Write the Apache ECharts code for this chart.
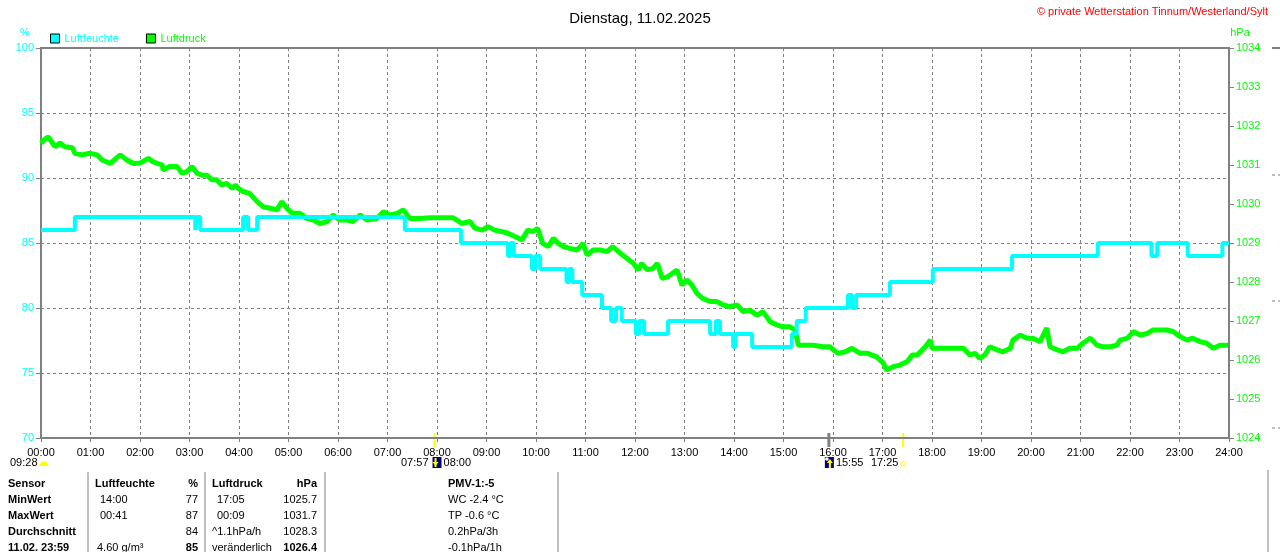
<!DOCTYPE html>
<html lang="de">
<head>
<meta charset="UTF-8">
<title>Dienstag, 11.02.2025</title>
<script src="https://cdn.jsdelivr.net/npm/echarts@6/dist/echarts.min.js"></script>
<style>
  html, body { margin: 0; padding: 0; background: #fff; }
  #main { width: 1280px; height: 552px; }
</style>
</head>
<body>
<div id="main"></div>
<script>
// Zeiten in Minuten seit Mitternacht
var feuchteZeit = [0, 41, 187, 189, 193, 245, 251, 262, 441, 509,
  566, 569, 573, 595, 599, 605, 637, 640, 644, 656,
  680, 691, 697, 704, 721, 725, 731, 760, 811, 818,
  823, 839, 842, 862, 910, 916, 927, 978, 983, 988,
  1029, 1081, 1177, 1281, 1346, 1353, 1390, 1432, 1440];
var feuchteWert = [86, 87, 86, 87, 86, 87, 86, 87, 86, 85,
  84, 85, 84, 83, 84, 83, 82, 83, 82, 81,
  80, 79, 80, 79, 78, 79, 78, 79, 78, 79,
  78, 77, 78, 77, 78, 79, 80, 81, 80, 81,
  82, 83, 84, 85, 84, 85, 84, 85, 85];

var druckZeit = [0, 5, 9, 13, 17, 23, 29, 38, 41, 50,
  59, 68, 74, 84, 96, 104, 112, 120, 130, 136,
  147, 148, 156, 165, 171, 177, 183, 189, 195, 201,
  207, 213, 219, 225, 232, 236, 239, 245, 253, 262,
  269, 278, 286, 292, 298, 305, 314, 322, 330, 338,
  347, 354, 362, 371, 378, 387, 395, 407, 415, 423,
  432, 439, 447, 459, 472, 487, 499, 504, 510, 520,
  526, 535, 542, 550, 559, 566, 575, 583, 590, 596,
  602, 608, 615, 621, 627, 633, 641, 650, 657, 662,
  669, 678, 686, 693, 702, 710, 718, 724, 728, 735,
  742, 747, 753, 760, 771, 777, 783, 789, 795, 802,
  811, 819, 827, 835, 844, 851, 859, 868, 875, 884,
  892, 899, 908, 914, 918, 920, 926, 936, 948, 956,
  966, 975, 983, 993, 1002, 1013, 1021, 1025, 1033, 1041,
  1050, 1056, 1062, 1072, 1078, 1080, 1086, 1093, 1102, 1110,
  1118, 1126, 1132, 1138, 1144, 1150, 1159, 1166, 1175, 1178,
  1187, 1195, 1202, 1211, 1219, 1223, 1232, 1239, 1247, 1256,
  1263, 1272, 1280, 1287, 1296, 1304, 1308, 1317, 1324, 1332,
  1341, 1348, 1356, 1365, 1372, 1381, 1389, 1396, 1405, 1413,
  1421, 1429, 1439];
var druckWert = [1031.56, 1031.67, 1031.72, 1031.59, 1031.47, 1031.56, 1031.47, 1031.44, 1031.30, 1031.26,
  1031.30, 1031.26, 1031.13, 1031.04, 1031.26, 1031.13, 1031.04, 1031.05, 1031.17, 1031.08,
  1031.00, 1030.87, 1030.96, 1030.96, 1030.79, 1030.83, 1030.96, 1030.79, 1030.74, 1030.74,
  1030.62, 1030.62, 1030.49, 1030.53, 1030.40, 1030.49, 1030.40, 1030.32, 1030.27, 1030.06,
  1029.93, 1029.89, 1029.85, 1030.06, 1029.89, 1029.76, 1029.76, 1029.63, 1029.59, 1029.50,
  1029.55, 1029.72, 1029.59, 1029.59, 1029.55, 1029.72, 1029.59, 1029.63, 1029.80, 1029.72,
  1029.76, 1029.85, 1029.63, 1029.63, 1029.65, 1029.65, 1029.65, 1029.59, 1029.50, 1029.55,
  1029.38, 1029.33, 1029.42, 1029.33, 1029.29, 1029.25, 1029.16, 1029.08, 1029.33, 1029.29,
  1029.38, 1028.99, 1028.91, 1029.12, 1028.99, 1028.91, 1028.86, 1028.82, 1028.99, 1028.69,
  1028.82, 1028.82, 1028.78, 1028.91, 1028.74, 1028.61, 1028.48, 1028.31, 1028.48, 1028.31,
  1028.35, 1028.48, 1028.09, 1028.14, 1028.31, 1027.92, 1028.05, 1027.92, 1027.71, 1027.58,
  1027.50, 1027.50, 1027.41, 1027.37, 1027.41, 1027.24, 1027.28, 1027.15, 1027.24, 1026.98,
  1026.90, 1026.85, 1026.85, 1026.77, 1026.38, 1026.34, 1026.38, 1026.38, 1026.34, 1026.34,
  1026.17, 1026.21, 1026.30, 1026.17, 1026.17, 1026.08, 1025.92, 1025.74, 1025.83, 1025.87,
  1025.96, 1026.13, 1026.13, 1026.34, 1026.51, 1026.30, 1026.30, 1026.30, 1026.30, 1026.30,
  1026.30, 1026.13, 1026.17, 1026.04, 1026.13, 1026.34, 1026.26, 1026.21, 1026.30, 1026.51,
  1026.64, 1026.56, 1026.56, 1026.47, 1026.82, 1026.34, 1026.26, 1026.21, 1026.30, 1026.30,
  1026.43, 1026.56, 1026.38, 1026.34, 1026.34, 1026.38, 1026.51, 1026.56, 1026.73, 1026.64,
  1026.68, 1026.77, 1026.77, 1026.77, 1026.73, 1026.60, 1026.51, 1026.56, 1026.47, 1026.43,
  1026.30, 1026.38, 1026.38];

// Sonnen-/Mondzeiten unter der Achse
var markenZeit = ['07:57', '15:55', '17:25'];
var markenFarbe = ['#ffff00', '#808080', '#ffff00'];

// Tabelle unten
var tabKopf = ['Sensor', 'Luftfeuchte', '%', 'Luftdruck', 'hPa', 'PMV-1:-5'];
var tabZeilen = [
  ['MinWert', '14:00', '77', '17:05', '1025.7', 'WC -2.4 °C'],
  ['MaxWert', '00:41', '87', '00:09', '1031.7', 'TP -0.6 °C'],
  ['Durchschnitt', '', '84', '^1.1hPa/h', '1028.3', '0.2hPa/3h'],
  ['11.02. 23:59', '4.60 g/m³', '85', 'veränderlich', '1026.4', '-0.1hPa/1h']
];

var FONT = '"Liberation Sans", Arial, sans-serif';
var GRAU = '#808080';
var CYAN = '#00ffff';
var GRUEN = '#00ff00';

function zuMin(s) {
  var p = s.split(':');
  return parseInt(p[0], 10) * 60 + parseInt(p[1], 10);
}
function pad(n) { return (n < 10 ? '0' : '') + n; }

var feuchteDaten = feuchteZeit.map(function (t, i) { return [t, feuchteWert[i]]; });
var druckDaten = druckZeit.map(function (t, i) { return [t, druckWert[i]]; });

var myChart = echarts.init(document.getElementById('main'));

var option = {
  animation: false,
  backgroundColor: '#fff',
  textStyle: { fontFamily: FONT },
  title: {
    text: 'Dienstag, 11.02.2025',
    left: 'center',
    top: 6,
    textStyle: { fontSize: 15, fontWeight: 'normal', color: '#000', fontFamily: FONT }
  },
  legend: {
    left: 50,
    top: 33,
    padding: 0,
    itemWidth: 9,
    itemHeight: 9,
    itemGap: 27,
    icon: 'rect',
    selectedMode: false,
    itemStyle: { borderColor: '#000', borderWidth: 1 },
    textStyle: { fontSize: 11, fontFamily: FONT },
    data: [
      { name: 'Luftfeuchte', textStyle: { color: CYAN } },
      { name: 'Luftdruck', textStyle: { color: GRUEN } }
    ]
  },
  grid: {
    left: 41, right: 51, top: 48, bottom: 114,
    show: true, borderColor: GRAU, borderWidth: 2, backgroundColor: 'transparent'
  },
  xAxis: {
    type: 'value',
    min: 0, max: 1440, interval: 60,
    axisLine: { lineStyle: { color: GRAU, width: 2 } },
    axisTick: { show: true, length: 4, lineStyle: { color: GRAU } },
    axisLabel: {
      color: '#000', fontSize: 11, margin: 9, fontFamily: FONT,
      formatter: function (v) { return pad(v / 60) + ':00'; }
    },
    splitLine: { show: true, lineStyle: { color: GRAU, type: [3, 3], width: 1 } }
  },
  yAxis: [
    {
      type: 'value', position: 'left',
      min: 70, max: 100, interval: 5,
      axisLine: { show: true, lineStyle: { color: GRAU, width: 2 } },
      axisTick: { show: true, length: 5, lineStyle: { color: GRAU } },
      axisLabel: { color: CYAN, fontSize: 11, margin: 7, fontFamily: FONT,
        formatter: function (v) { return String(v); } },
      splitLine: { show: true, lineStyle: { color: GRAU, type: [3, 3], width: 1 } }
    },
    {
      type: 'value', position: 'right',
      min: 1024, max: 1034, interval: 1,
      axisLine: { show: true, lineStyle: { color: GRAU, width: 2 } },
      axisTick: { show: true, length: 5, lineStyle: { color: GRAU } },
      axisLabel: { color: GRUEN, fontSize: 11, margin: 7, fontFamily: FONT,
        formatter: function (v) { return String(v); } },
      splitLine: { show: false }
    }
  ],
  series: [
    {
      name: 'Luftdruck', type: 'line', yAxisIndex: 1,
      data: druckDaten, showSymbol: false, z: 2,
      lineStyle: { color: GRUEN, width: 5 },
      itemStyle: { color: GRUEN }
    },
    {
      name: 'Luftfeuchte', type: 'line', yAxisIndex: 0, step: 'end',
      data: feuchteDaten, showSymbol: false, z: 3,
      lineStyle: { color: CYAN, width: 4 },
      itemStyle: { color: CYAN }
    }
  ]
};

myChart.setOption(option);

// Zusatztexte, Marken und Tabelle
var g = [];
function txt(x, y, s, opt) {
  opt = opt || {};
  g.push({
    type: 'text', x: x, y: y, silent: true,
    style: {
      text: s, fill: opt.color || '#000', font: (opt.bold ? 'bold ' : '') + (opt.size || 11) + 'px ' + FONT,
      align: opt.align || 'left', verticalAlign: 'middle'
    }
  });
}
function strich(x1, y1, x2, y2, farbe, w, dash) {
  g.push({
    type: 'line', silent: true,
    shape: { x1: x1, y1: y1, x2: x2, y2: y2 },
    style: { stroke: farbe, lineWidth: w || 1, lineDash: dash || null }
  });
}

txt(1268, 12, '© private Wetterstation Tinnum/Westerland/Sylt', { color: '#ff0000', align: 'right' });
txt(25, 33, '%', { color: CYAN, align: 'center' });
txt(1240, 33, 'hPa', { color: GRUEN, align: 'center' });

var yUnten = myChart.convertToPixel({ yAxisIndex: 0 }, 70);
markenZeit.forEach(function (s, i) {
  var px = myChart.convertToPixel({ xAxisIndex: 0 }, zuMin(s));
  strich(px, yUnten - 5, px, yUnten + 9, markenFarbe[i], i === 1 ? 3 : 2);
});

// Zeile mit Auf-/Untergangszeiten
var zeileY = 463;
txt(10, zeileY, '09:28');
g.push({ type: 'sector', silent: true, shape: { cx: 44, cy: zeileY + 3, r: 4.5, startAngle: Math.PI, endAngle: 2 * Math.PI }, style: { fill: '#ffff00' } });

var pAuf = myChart.convertToPixel({ xAxisIndex: 0 }, zuMin(markenZeit[0]));
txt(pAuf - 6, zeileY, '07:57', { align: 'right' });
g.push({ type: 'rect', silent: true, shape: { x: pAuf - 2, y: zeileY - 6, width: 9, height: 11 }, style: { fill: '#000080' } });
strich(pAuf + 1, zeileY - 5, pAuf + 1, zeileY + 4, '#ffff00', 2);
g.push({ type: 'polygon', silent: true, shape: { points: [[pAuf - 2, zeileY - 1], [pAuf + 4, zeileY - 1], [pAuf + 1, zeileY + 3]] }, style: { fill: '#ffff00' } });
txt(pAuf + 9, zeileY, '08:00');

var pUnt = myChart.convertToPixel({ xAxisIndex: 0 }, zuMin(markenZeit[1]));
g.push({ type: 'rect', silent: true, shape: { x: pUnt - 4, y: zeileY - 6, width: 9, height: 11 }, style: { fill: '#000080' } });
g.push({ type: 'circle', silent: true, shape: { cx: pUnt - 2, cy: zeileY - 4, r: 1.8 }, style: { fill: '#ffffff' } });
strich(pUnt + 1, zeileY - 3, pUnt + 1, zeileY + 5, '#ffff00', 2);
g.push({ type: 'polygon', silent: true, shape: { points: [[pUnt - 2, zeileY], [pUnt + 4, zeileY], [pUnt + 1, zeileY - 4]] }, style: { fill: '#ffff00' } });
txt(pUnt + 7, zeileY, '15:55');
txt(pUnt + 42, zeileY, '17:25');
var pMond = myChart.convertToPixel({ xAxisIndex: 0 }, zuMin(markenZeit[2]));
g.push({ type: 'rect', silent: true, shape: { x: pMond - 2, y: zeileY - 1, width: 4, height: 4 }, style: { fill: 'none', stroke: '#ffff00', lineWidth: 1 } });

// Tabelle
var spalteX = [8, 95, 198, 212, 317, 448];
var spalteAlign = ['left', 'left', 'right', 'left', 'right', 'left'];
var zeileH = 16, tabY = 484;
tabKopf.forEach(function (s, c) {
  txt(spalteX[c], tabY, s, { bold: true, align: spalteAlign[c] });
});
tabZeilen.forEach(function (zeile, r) {
  var y = tabY + (r + 1) * zeileH;
  zeile.forEach(function (s, c) {
    var x = spalteX[c];
    if ((c === 1 || c === 3) && /^\d\d:\d\d$/.test(s)) x += 5;
    if (c === 1 && r === 3) x += 2;
    var fett = c === 0 || (r === 3 && (c === 2 || c === 4));
    txt(x, y, s, { bold: fett, align: spalteAlign[c] });
  });
});
[88, 205, 325, 558].forEach(function (x) {
  strich(x, 472, x, 552, GRAU, 1);
});
strich(1268, 470, 1268, 552, GRAU, 1);

// Reste eines Nachbardiagramms am rechten Rand
strich(1272, 48, 1280, 48, GRAU, 2);
[175, 301, 428].forEach(function (y) {
  strich(1272, y, 1280, y, GRAU, 1, [3, 3]);
});

myChart.setOption({ graphic: { elements: g } });
</script>
</body>
</html>
